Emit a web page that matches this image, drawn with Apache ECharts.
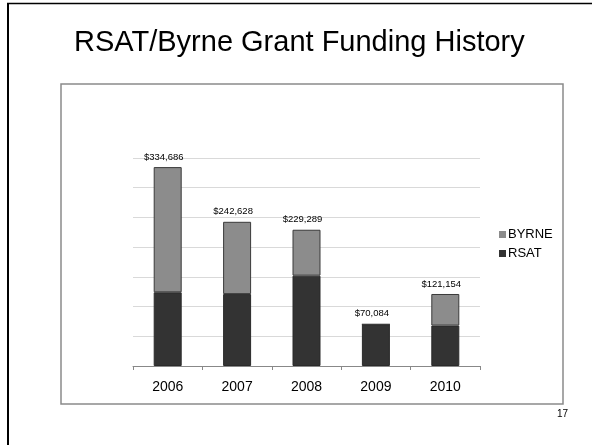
<!DOCTYPE html>
<html>
<head>
<meta charset="utf-8">
<script src="https://cdn.jsdelivr.net/npm/echarts@6/dist/echarts.min.js"></script>
<style>html,body{margin:0;padding:0;background:#fff;}#c{width:592px;height:445px;}</style>
</head>
<body>
<div id="c"></div>
<script>
const years = ['2006', '2007', '2008', '2009', '2010'];
const rsat = [124000, 121000, 152000, 70084, 68000];
const byrne = [210686, 121628, 77289, 0, 53154];
const seriesNames = ['BYRNE', 'RSAT'];
const titleText = 'RSAT/Byrne Grant Funding History';
const pageNumber = '17';

const fnt = '"Liberation Sans", Arial, Helvetica, sans-serif';
const chart = echarts.init(document.getElementById('c'), null, { renderer: 'canvas' });
function money(v) { return '$' + v.toLocaleString('en-US'); }

chart.setOption({
  animation: false,
  backgroundColor: '#fff',
  textStyle: { fontFamily: fnt },
  graphic: [
    { type: 'line', shape: { x1: 8, y1: 3, x2: 8, y2: 445 }, style: { stroke: '#000', lineWidth: 2 } },
    { type: 'line', shape: { x1: 7, y1: 3.5, x2: 592, y2: 3.5 }, style: { stroke: '#000', lineWidth: 1.5 } },
    { type: 'rect', shape: { x: 61, y: 84, width: 502, height: 320 }, style: { fill: 'none', stroke: '#8a8a8a', lineWidth: 1.5 }, z: -1 },
    { type: 'text', left: 300 - 226, top: 28, style: { text: titleText, font: '29px ' + fnt, fill: '#000' } },
    { type: 'text', left: 557, top: 409, style: { text: pageNumber, font: '10px ' + fnt, fill: '#000' } }
  ],
  grid: { left: 133, right: 112, top: 158, bottom: 79, containLabel: false },
  legend: {
    data: seriesNames,
    orient: 'vertical',
    left: 494, top: 223,
    icon: 'rect', itemWidth: 7, itemHeight: 7, itemGap: 6,
    itemStyle: { borderWidth: 0 },
    textStyle: { fontSize: 13, color: '#000', fontFamily: fnt, padding: [0, 0, 0, -3] }
  },
  xAxis: {
    type: 'category', data: years,
    axisLine: { lineStyle: { color: '#888', width: 1 } },
    axisTick: { show: true, length: 4, lineStyle: { color: '#888' } },
    axisLabel: { fontSize: 14, color: '#000', margin: 14, fontFamily: fnt }
  },
  yAxis: {
    type: 'value', min: 0, max: 350000, interval: 50000,
    axisLabel: { show: false }, axisLine: { show: false }, axisTick: { show: false },
    splitLine: { lineStyle: { color: '#d9d9d9', width: 1 } }
  },
  series: [
    {
      name: 'RSAT', type: 'bar', stack: 'total', data: rsat, barWidth: 28,
      itemStyle: { color: '#333333', borderColor: '#2a2a2a', borderWidth: 1 }
    },
    {
      name: 'BYRNE', type: 'bar', stack: 'total', data: byrne, barWidth: 28,
      itemStyle: { color: '#8c8c8c', borderColor: '#3a3a3a', borderWidth: 1 },
      label: {
        show: true, position: 'top', distance: 5, offset: [-4, 0],
        fontSize: 9.5, color: '#000', fontFamily: fnt,
        formatter: p => money(rsat[p.dataIndex] + byrne[p.dataIndex])
      }
    }
  ]
});
</script>
</body>
</html>
